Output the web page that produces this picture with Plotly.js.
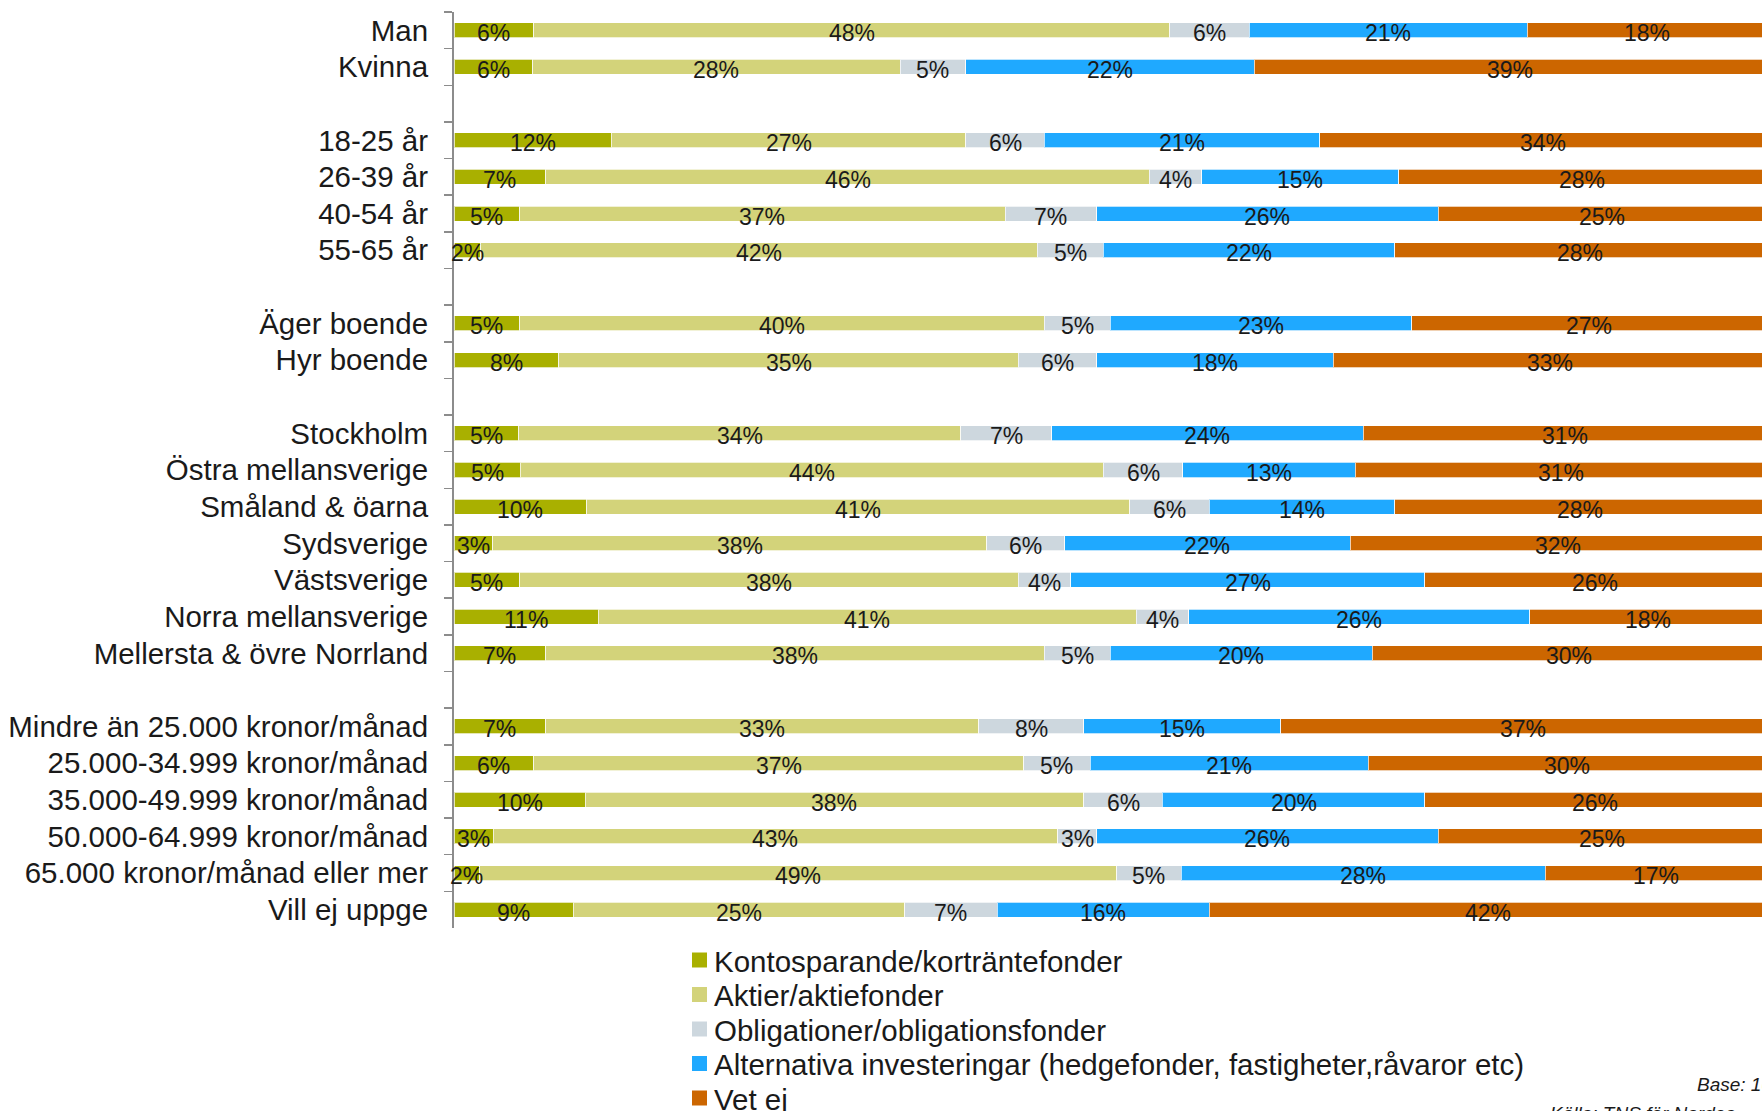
<!DOCTYPE html>
<html>
<head>
<meta charset="utf-8">
<script src="https://cdn.plot.ly/plotly-3.0.1.min.js"></script>
<style>
  html, body { margin: 0; padding: 0; overflow: hidden; background: #fff; }
  #chart { width: 1780px; height: 1111px; }
</style>
</head>
<body>
<div id="chart"></div>
<script>
'use strict';

// row groups (a blank row is left between groups)
var groups = [
    ['Man', 'Kvinna'],
    ['18-25 år', '26-39 år', '40-54 år', '55-65 år'],
    ['Äger boende', 'Hyr boende'],
    ['Stockholm', 'Östra mellansverige', 'Småland & öarna', 'Sydsverige',
     'Västsverige', 'Norra mellansverige', 'Mellersta & övre Norrland'],
    ['Mindre än 25.000 kronor/månad', '25.000-34.999 kronor/månad',
     '35.000-49.999 kronor/månad', '50.000-64.999 kronor/månad',
     '65.000 kronor/månad eller mer', 'Vill ej uppge']
]

// series names and colours
var seriesNames = [
    'Kontosparande/korträntefonder',
    'Aktier/aktiefonder',
    'Obligationer/obligationsfonder',
    'Alternativa investeringar (hedgefonder, fastigheter,råvaror etc)',
    'Vet ej'
]
var seriesColors = ['#a9b000', '#d3d37a', '#cdd7de', '#1fa9ff', '#cc6600']

// percent per row, same order as the groups above
var konto  = [6, 6, 12, 7, 5, 2, 5, 8, 5, 5, 10, 3, 5, 11, 7, 7, 6, 10, 3, 2, 9]
var aktier = [48, 28, 27, 46, 37, 42, 40, 35, 34, 44, 41, 38, 38, 41, 38, 33, 37, 38, 43, 49, 25]
var oblig  = [6, 5, 6, 4, 7, 5, 5, 6, 7, 6, 6, 6, 4, 4, 5, 8, 5, 6, 3, 5, 7]
var altern = [21, 22, 21, 15, 26, 22, 23, 18, 24, 13, 14, 22, 27, 26, 20, 15, 21, 20, 26, 28, 16]
var vetej  = [18, 39, 34, 28, 25, 28, 27, 33, 31, 31, 28, 32, 26, 18, 30, 37, 30, 26, 25, 17, 42]

var seriesValues = [konto, aktier, oblig, altern, vetej]

// footnote
var baseText = 'Base: 1000'
var sourceText = 'Källa: TNS för Nordea'


var categories = [].concat.apply([], groups)

// category order with blank spacer rows
var catOrder = []
groups.forEach(function(g, i) {
    if (i > 0) catOrder.push(' '.repeat(i))
    catOrder = catOrder.concat(g)
})

var data = seriesValues.map(function(vals, i) {
    return {
        type: 'bar',
        orientation: 'h',
        name: seriesNames[i],
        y: categories,
        x: vals,
        textposition: 'none',
        marker: {color: seriesColors[i], line: {color: 'rgba(255,255,255,0.7)', width: 1}},
        hoverinfo: 'none'
    }
})

var annotations = []

// value labels as annotations so they sit above every bar
// (100% stacked, so midpoints are normalised per row)
categories.forEach(function(c, r) {
    var total = 0
    seriesValues.forEach(function(vals) { total += vals[r] })
    var cum = 0
    seriesValues.forEach(function(vals) {
        annotations.push({
            xref: 'x', yref: 'y',
            x: (cum + vals[r] / 2) / total * 100,
            y: c,
            text: vals[r] + '%',
            showarrow: false,
            yshift: -3,
            font: {size: 23, color: '#1a1a1a'}
        })
        cum += vals[r]
    })
})

// plot area in page pixels
var plotL = 454, plotW = 1312, plotT = 12, plotH = 916
function px(x) { return (x - plotL) / plotW }
function py(y) { return (plotT + plotH - y) / plotH }

// legend drawn by hand so the rows keep the tight spacing of the original
var shapes = []
seriesNames.forEach(function(n, i) {
    var cy = 960 + i * 34.5
    shapes.push({
        type: 'rect', xref: 'paper', yref: 'paper',
        x0: px(692), x1: px(707), y0: py(cy + 7.5), y1: py(cy - 7.5),
        fillcolor: seriesColors[i], line: {width: 0}
    })
    annotations.push({
        xref: 'paper', yref: 'paper', x: px(712), y: py(cy + 1),
        xanchor: 'left', yanchor: 'middle', showarrow: false,
        text: n, font: {size: 29.5, color: '#1a1a1a'}
    })
})

annotations.push({
    xref: 'paper', yref: 'paper', x: px(1695), y: py(1084),
    xanchor: 'left', yanchor: 'middle', showarrow: false,
    text: '<i>' + baseText + '</i>', font: {size: 19, color: '#1a1a1a'}
})
annotations.push({
    xref: 'paper', yref: 'paper', x: px(1548), y: py(1113),
    xanchor: 'left', yanchor: 'middle', showarrow: false,
    text: '<i>' + sourceText + '</i>', font: {size: 19, color: '#1a1a1a'}
})

var layout = {
    width: 1780,
    height: 1111,
    margin: {l: plotL, r: 1780 - plotL - plotW, t: plotT, b: 1111 - plotT - plotH, pad: 0},
    barmode: 'stack',
    barnorm: 'percent',
    bargap: 0.59,
    showlegend: false,
    paper_bgcolor: '#fff',
    plot_bgcolor: '#fff',
    font: {family: '"Liberation Sans", Arial, sans-serif', color: '#1a1a1a'},
    xaxis: {range: [0, 100], visible: false, fixedrange: true},
    yaxis: {
        type: 'category',
        categoryorder: 'array',
        categoryarray: catOrder,
        range: [catOrder.length - 0.5, -0.5],
        autorange: false,
        tickson: 'boundaries',
        ticks: 'outside',
        ticklen: 8,
        tickwidth: 1.5,
        tickcolor: '#8c8c8c',
        showline: true,
        linecolor: '#8c8c8c',
        linewidth: 2,
        showgrid: false,
        zeroline: false,
        ticklabelstandoff: 18,
        tickfont: {size: 29.5, color: '#1a1a1a'},
        fixedrange: true
    },
    shapes: shapes,
    annotations: annotations
}

Plotly.newPlot('chart', data, layout, {displayModeBar: false, staticPlot: true})
</script>
</body>
</html>
